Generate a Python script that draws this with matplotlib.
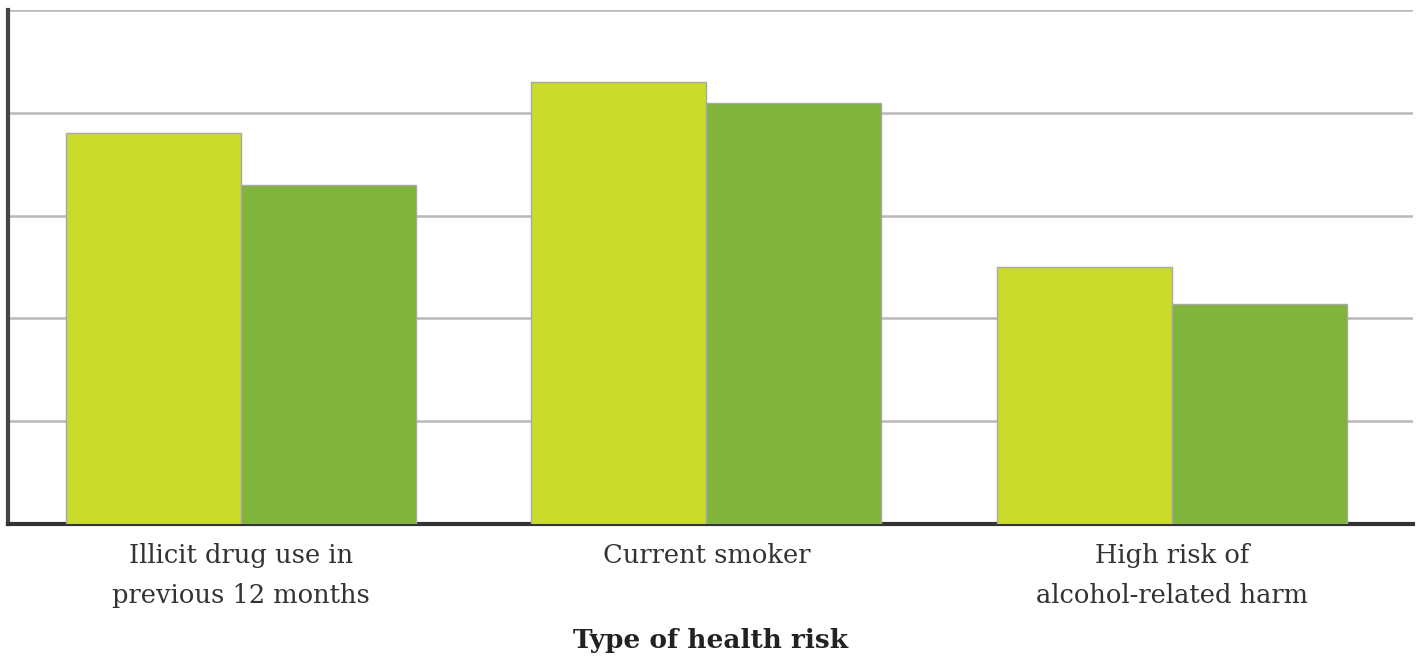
import matplotlib
matplotlib.use("Agg")
import matplotlib.pyplot as plt
import numpy as np

categories = ["Illicit drug use in\nprevious 12 months", "Current smoker",
              "High risk of\nalcohol-related harm"]
series_a = [19.0, 21.5, 12.5]
series_b = [16.5, 20.5, 10.7]
y_ticks = [0, 5, 10, 15, 20, 25]

color_a = "#CBDB2A"
color_b = "#80B43A"

plt.rcParams["font.family"] = ["DejaVu Serif"]

fig = plt.figure(figsize=(14.18, 6.6), dpi=100)
ax = fig.add_axes([8 / 1418, 136 / 660, 1405 / 1418, 514 / 660])

x = np.arange(len(categories))
w = 0.376
ax.bar(x - w / 2, series_a, width=w, color=color_a, edgecolor="#a8a8a8",
       linewidth=1.0, zorder=3)
ax.bar(x + w / 2, series_b, width=w, color=color_b, edgecolor="#a8a8a8",
       linewidth=1.0, zorder=3)

ax.set_xlim(-0.5, 2.518)
ax.set_ylim(0, 25)
ax.set_yticks(y_ticks)
ax.set_yticklabels([])
ax.yaxis.grid(True, color="#b8b8b8", linewidth=1.8, zorder=0)
ax.set_axisbelow(True)

ax.set_xticks(x)
ax.set_xticklabels(categories, fontsize=18.5, color="#333333", linespacing=1.75)
ax.tick_params(axis="both", length=0, pad=14)

for side in ("top", "right"):
    ax.spines[side].set_visible(False)
ax.spines["left"].set_color("#444444")
ax.spines["left"].set_linewidth(3)
ax.spines["bottom"].set_color("#333333")
ax.spines["bottom"].set_linewidth(3)

ax.set_xlabel("Type of health risk", fontsize=19, fontweight="bold",
              color="#222222", labelpad=14)

fig.savefig("out.png", dpi=100)
